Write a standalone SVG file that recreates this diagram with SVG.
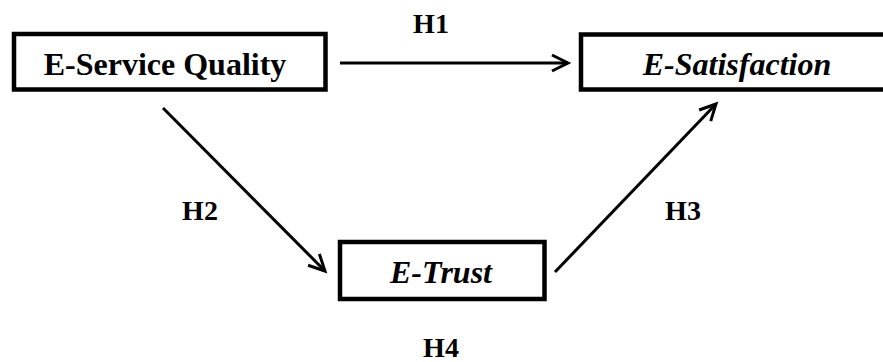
<svg xmlns="http://www.w3.org/2000/svg" width="883" height="362" viewBox="0 0 883 362">
<style>
.box{fill:#fff;stroke:#000;stroke-width:4.5}
.t{font-family:'Liberation Serif','Times New Roman',serif;font-weight:bold;font-size:32px;fill:#000;text-anchor:middle}
.i{font-style:italic}
.h{font-family:'Liberation Serif','Times New Roman',serif;font-weight:bold;font-size:28px;fill:#000;text-anchor:middle}
.c{stroke:#000;stroke-width:3;fill:none}
</style>
<defs>
<marker id="arr" markerUnits="userSpaceOnUse" markerWidth="24" markerHeight="24" viewBox="-20 -12 24 24" refX="0" refY="0" orient="auto">
<path d="M-16,-8 L0,0 L-16,8" fill="none" stroke="#000" stroke-width="3" stroke-linejoin="miter"/>
</marker>
</defs>
<rect width="883" height="362" fill="#fff"/>
<g id="connectors">
<line class="c" x1="340" y1="63" x2="568" y2="63" marker-end="url(#arr)"/>
<line class="c" x1="163" y1="108" x2="325" y2="271" marker-end="url(#arr)"/>
<line class="c" x1="555" y1="272" x2="716" y2="104" marker-end="url(#arr)"/>
</g>
<g id="node-esq">
<rect class="box" x="14" y="34" width="311.5" height="55.5"/>
<text class="t" x="165" y="75">E-Service Quality</text>
</g>
<g id="node-esat">
<rect class="box" x="581" y="34.5" width="320" height="55"/>
<text class="t i" x="737" y="75">E-Satisfaction</text>
</g>
<g id="node-etrust">
<rect class="box" x="340" y="242" width="204.5" height="57"/>
<text class="t i" x="441" y="283">E-Trust</text>
</g>
<g id="labels">
<text class="h" x="431" y="33">H1</text>
<text class="h" x="200" y="220">H2</text>
<text class="h" x="683" y="220">H3</text>
<text class="h" x="441" y="357">H4</text>
</g>
</svg>
